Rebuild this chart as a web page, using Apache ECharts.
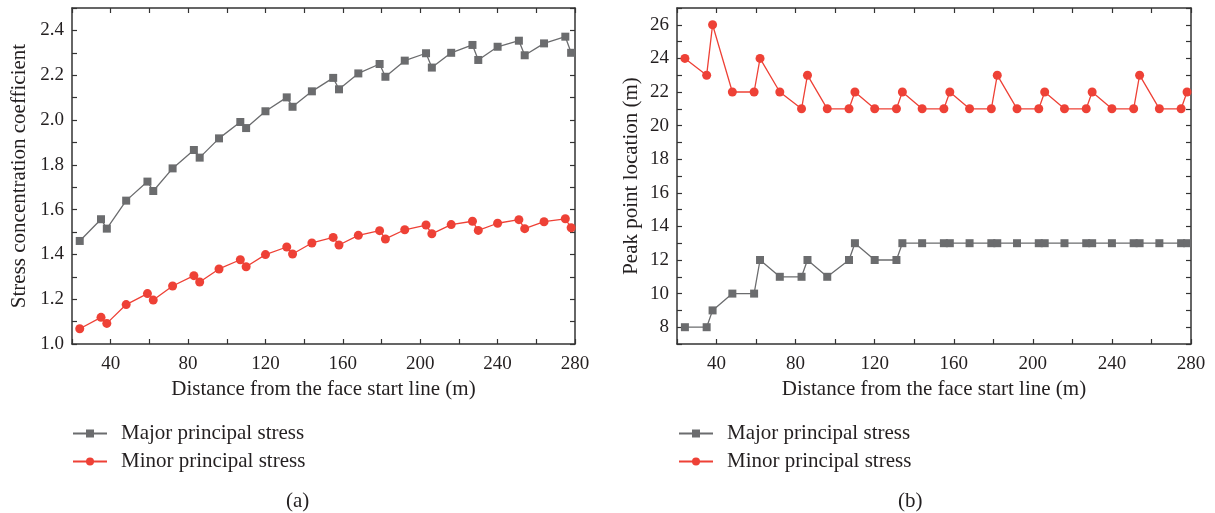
<!DOCTYPE html>
<html>
<head>
<meta charset="utf-8">
<script src="https://cdn.jsdelivr.net/npm/echarts@6/dist/echarts.min.js"></script>
<style>
  html, body { margin: 0; padding: 0; background: #fff; }
  #chart { width: 1215px; height: 513px; }
</style>
</head>
<body>
<div id="chart"></div>
<script>
// distance from the face start line (m), shared by both panels
const distance = [24, 35, 38, 48, 59, 62, 72, 83, 86, 96, 107, 110, 120, 131, 134, 144, 155, 158,
  168, 179, 182, 192, 203, 206, 216, 227, 230, 240, 251, 254, 264, 275, 278];

// (a) stress concentration coefficient
const majorCoef = [1.46, 1.557, 1.515, 1.64, 1.725, 1.683, 1.784, 1.866, 1.832, 1.918, 1.991, 1.964,
  2.039, 2.101, 2.059, 2.128, 2.188, 2.137, 2.208, 2.25, 2.193, 2.265, 2.298, 2.234, 2.30, 2.335,
  2.268, 2.327, 2.354, 2.289, 2.342, 2.372, 2.30];
const minorCoef = [1.068, 1.119, 1.092, 1.176, 1.225, 1.196, 1.259, 1.305, 1.277, 1.335, 1.376, 1.345,
  1.399, 1.433, 1.402, 1.451, 1.476, 1.442, 1.485, 1.506, 1.469, 1.51, 1.531, 1.492, 1.533, 1.548,
  1.507, 1.539, 1.555, 1.515, 1.546, 1.559, 1.519];

// (b) peak point location (m)
const majorPeak = [8, 8, 9, 10, 10, 12, 11, 11, 12, 11, 12, 13, 12, 12, 13, 13, 13, 13,
  13, 13, 13, 13, 13, 13, 13, 13, 13, 13, 13, 13, 13, 13, 13];
const minorPeak = [24, 23, 26, 22, 22, 24, 22, 21, 23, 21, 21, 22, 21, 21, 22, 21, 21, 22,
  21, 21, 23, 21, 21, 22, 21, 21, 22, 21, 21, 23, 21, 21, 22];

const seriesNames = ["Major principal stress", "Minor principal stress"];
const GRAY = "#6b6c6e";
const RED = "#ee4136";
const FONT = "Liberation Serif";
const INK = "#231f20";

const pairs = (ys) => distance.map((x, i) => [x, ys[i]]);

function boxX(gridIndex, bottom) {
  return {
    type: "value", gridIndex, min: 20, max: 280, interval: 20,
    position: bottom ? "bottom" : "top",
    name: bottom ? "Distance from the face start line (m)" : "",
    nameLocation: "middle", nameGap: 35,
    nameTextStyle: { fontFamily: FONT, fontSize: 21, color: INK },
    axisLine: { show: true, onZero: false, lineStyle: { color: "#333", width: 1.5 } },
    axisTick: { show: true, inside: true, length: 5, lineStyle: { color: "#333", width: 1.2 } },
    axisLabel: {
      show: bottom, margin: 11, fontFamily: FONT, fontSize: 19, color: INK,
      formatter: (v) => (v % 40 === 0 ? String(v) : ""),
    },
    splitLine: { show: false },
  };
}

function boxY(gridIndex, left, opts) {
  return Object.assign({
    type: "value", gridIndex,
    position: left ? "left" : "right",
    nameLocation: "middle",
    nameTextStyle: { fontFamily: FONT, fontSize: 21, color: INK },
    axisLine: { show: true, onZero: false, lineStyle: { color: "#333", width: 1.5 } },
    axisTick: { show: true, inside: true, length: 5, lineStyle: { color: "#333", width: 1.2 } },
    splitLine: { show: false },
  }, opts, {
    name: left ? opts.name : "",
    axisLabel: Object.assign({ show: left, margin: 8, fontFamily: FONT, fontSize: 19, color: INK }, opts.axisLabel),
  });
}

function lineSeries(name, data, xi, yi, symbol, color, size) {
  return {
    name, type: "line", data, xAxisIndex: xi, yAxisIndex: yi,
    symbol, symbolSize: size, showSymbol: true,
    lineStyle: { color, width: 1.3 },
    itemStyle: { color },
    animation: false,
  };
}

const legendCommon = {
  orient: "vertical", itemWidth: 34, itemHeight: 10, itemGap: 7, padding: 0,
  textStyle: { fontFamily: FONT, fontSize: 21, color: INK, padding: [0, 0, 0, 9] },
  data: seriesNames, selectedMode: false,
};

const chart = echarts.init(document.getElementById("chart"));
chart.setOption({
  backgroundColor: "#fff",
  animation: false,
  grid: [
    { left: 72, right: 640, top: 8, bottom: 169 },
    { left: 677, right: 24, top: 8, bottom: 169 },
  ],
  xAxis: [boxX(0, true), boxX(0, false), boxX(1, true), boxX(1, false)],
  yAxis: [
    boxY(0, true, { min: 1.0, max: 2.5, interval: 0.1, name: "Stress concentration coefficient", nameGap: 42,
      axisLabel: { formatter: (v) => (Math.round(v * 10) % 2 === 0 && v < 2.45 ? v.toFixed(1) : "") } }),
    boxY(0, false, { min: 1.0, max: 2.5, interval: 0.1 }),
    boxY(1, true, { min: 7, max: 27, interval: 1, name: "Peak point location (m)", nameGap: 35,
      axisLabel: { formatter: (v) => (v % 2 === 0 ? String(v) : "") } }),
    boxY(1, false, { min: 7, max: 27, interval: 1 }),
  ],
  legend: [
    Object.assign({ left: 72, top: 423 }, legendCommon),
    Object.assign({ left: 678, top: 423 }, legendCommon),
  ],
  title: [
    { text: "(a)", left: 286, top: 491, padding: 0, textStyle: { fontFamily: FONT, fontSize: 21, fontWeight: "normal", color: INK } },
    { text: "(b)", left: 898, top: 491, padding: 0, textStyle: { fontFamily: FONT, fontSize: 21, fontWeight: "normal", color: INK } },
  ],
  series: [
    lineSeries(seriesNames[0], pairs(majorCoef), 0, 0, "rect", GRAY, 8),
    lineSeries(seriesNames[1], pairs(minorCoef), 0, 0, "circle", RED, 9),
    lineSeries(seriesNames[0], pairs(majorPeak), 2, 2, "rect", GRAY, 8),
    lineSeries(seriesNames[1], pairs(minorPeak), 2, 2, "circle", RED, 9),
  ],
});
</script>
</body>
</html>
